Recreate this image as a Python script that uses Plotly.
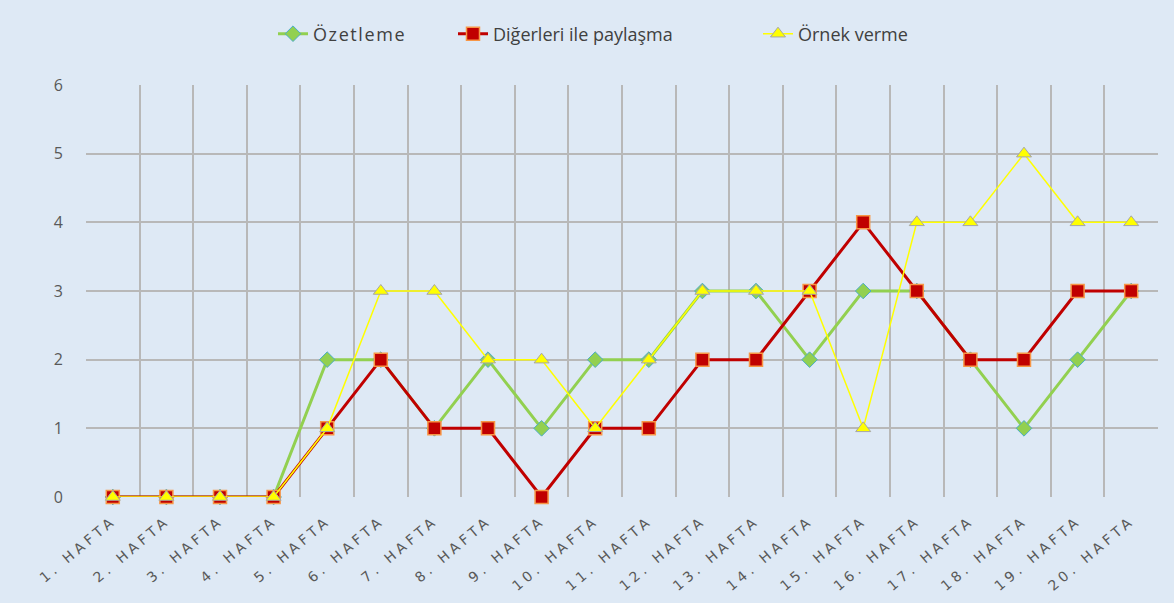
import plotly.graph_objects as go

weeks = [f"{i}. HAFTA" for i in range(1, 21)]
week_pos = list(range(1, 21))
ozetleme = [0, 0, 0, 0, 2, 2, 1, 2, 1, 2, 2, 3, 3, 2, 3, 3, 2, 1, 2, 3]
digerleri = [0, 0, 0, 0, 1, 2, 1, 1, 0, 1, 1, 2, 2, 3, 4, 3, 2, 2, 3, 3]
ornek = [0, 0, 0, 0, 1, 3, 3, 2, 2, 1, 2, 3, 3, 3, 1, 4, 4, 5, 4, 4]
y_ticks = [0, 1, 2, 3, 4, 5, 6]

bg = "#DEE9F5"
W, H = 1174, 603
fig = go.Figure()
fig.add_trace(go.Scatter(
    x=week_pos, y=ozetleme, name="Özetleme", mode="lines+markers",
    line=dict(color="#92D050", width=3),
    marker=dict(symbol="diamond", size=12, color="#92D050",
                line=dict(color="#4BACC6", width=1)),
    cliponaxis=False, legend="legend"))
fig.add_trace(go.Scatter(
    x=week_pos, y=digerleri, name="Diğerleri ile paylaşma", mode="lines+markers",
    line=dict(color="#C00000", width=3),
    marker=dict(symbol="square", size=13, color="#C00000",
                line=dict(color="#F79646", width=1.5)),
    cliponaxis=False, legend="legend2"))
fig.add_trace(go.Scatter(
    x=week_pos, y=ornek, name="Örnek verme", mode="lines+markers",
    line=dict(color="#FFFF00", width=1.5),
    marker=dict(symbol="triangle-up", size=13, color="#FFFF00",
                line=dict(color="#A6A6A6", width=1)),
    cliponaxis=False, legend="legend3"))

leg_font = dict(size=18, color="#404040", family="Open Sans")
def leg(px):
    return dict(orientation="h", x=px / W, xanchor="left", xref="container",
                y=1 - 34 / H, yanchor="middle", yref="container",
                font=leg_font, bgcolor="rgba(0,0,0,0)", borderwidth=0,
                entrywidth=260)

fig.update_layout(
    width=W, height=H,
    paper_bgcolor=bg, plot_bgcolor=bg,
    margin=dict(l=86, r=16, t=85, b=106, autoexpand=False),
    font=dict(family="DejaVu Sans", color="#595959"),
    legend=leg(273), legend2=leg(453), legend3=leg(758),
    showlegend=True,
)
fig.update_xaxes(
    range=[0.5, 20.5], tickmode="array", tickvals=week_pos, ticktext=weeks,
    tickangle=-40, tickfont=dict(size=14, color="#595959", family="DejaVu Sans"),
    showgrid=False, zeroline=False, showline=False, ticks="", automargin=False,
    ticklabelstandoff=12,
    minor=dict(tickmode="array", tickvals=[i + 0.5 for i in range(0, 21)],
               showgrid=True, gridcolor="#B8B8B8", gridwidth=2, ticks=""),
)
fig.update_yaxes(
    range=[0, 6], tickmode="array", tickvals=y_ticks,
    tickfont=dict(size=16, color="#595959", family="Open Sans"),
    showgrid=True, gridcolor="#B8B8B8", gridwidth=2, zeroline=False,
    ticks="", ticklabelstandoff=22, automargin=False,
)

post = """
document.body.style.margin = '0';
document.body.style.background = '#DEE9F5';
var st = document.createElement('style');
st.textContent = '.xtick text { letter-spacing: 4px; } text.legendtext { letter-spacing: 1.6px; }';
document.head.appendChild(st);
"""
fig.write_html("out.html", post_script=post, config={"displayModeBar": False})
